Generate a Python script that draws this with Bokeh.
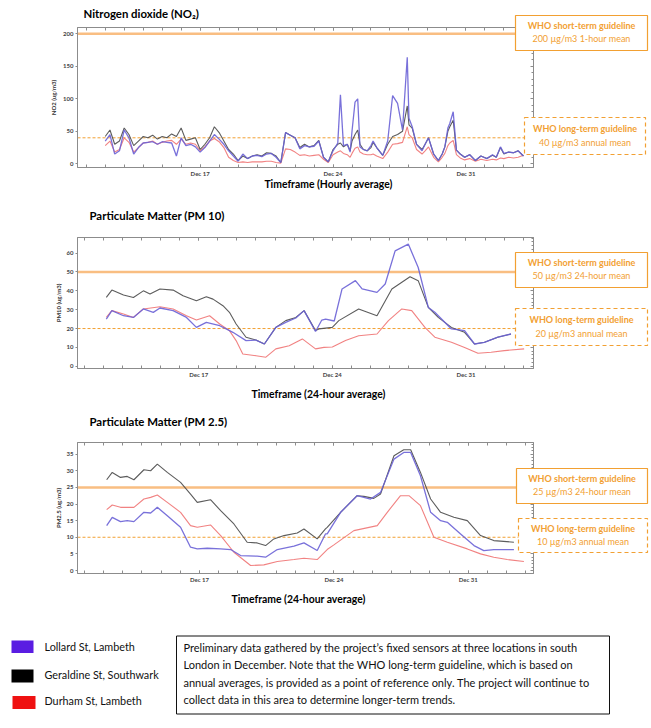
import pandas as pd
from bokeh.plotting import figure
from bokeh.models import (Range1d, FixedTicker, SingleIntervalTicker, LinearAxis, DatetimeAxis,
                          DatetimeTickFormatter, Label, Span, ColumnDataSource, GridBox)
from bokeh.layouts import column
from bokeh.embed import file_html
from bokeh.resources import INLINE

# ---------------- DATA (x = day of December 2019, fractional; 32 = Jan 1) ----------------
sites = ["Lollard St, Lambeth", "Geraldine St, Southwark", "Durham St, Lambeth"]

no2_day = [12.00, 12.25, 12.50, 12.75, 13.00, 13.25, 13.50, 13.75, 14.00, 14.25, 14.50, 14.75,
           15.00, 15.25, 15.50, 15.75, 16.00, 16.25, 16.50, 16.75, 17.00, 17.25, 17.50, 17.75,
           18.00, 18.25, 18.50, 18.75, 19.00, 19.25, 19.50, 19.75, 20.00, 20.25, 20.50, 20.75,
           21.00, 21.25, 21.50, 21.75, 22.00, 22.25, 22.50, 22.75, 23.00, 23.25, 23.50, 23.75,
           24.00, 24.25, 24.39, 24.55, 24.75, 24.90, 25.00, 25.16, 25.30, 25.42, 25.60, 25.80,
           26.00, 26.11, 26.30, 26.62, 26.88, 27.14, 27.40, 27.66, 27.91, 28.00, 28.17, 28.40,
           28.69, 28.85, 29.03, 29.30, 29.55, 29.75, 29.89, 30.05, 30.15, 30.33, 30.50, 30.70,
           30.93, 31.20, 31.50, 31.79, 32.10, 32.40, 32.60, 32.82, 33.00, 33.25, 33.51, 33.75, 34.03]
no2_geraldine = [42, 52, 30, 35, 55, 45, 28, 35, 42, 40, 44, 38,
                 42, 40, 46, 42, 55, 36, 38, 40, 22, 30, 40, 57,
                 48, 35, 22, 15, 5, 12, 8, 12, 14, 12, 17, 16,
                 12, 2, 48, 44, 40, 25, 30, 26, 28, 36, 10, 3,
                 22, 30, 32, 26, 30, 20, 35, 45, 52, 30, 22, 20,
                 25, 33, 25, 13, 30, 42, 45, 50, 89, 60, 55, 30,
                 22, 30, 40, 15, 5, 15, 26, 50, 57, 67, 21, 15,
                 10, 14, 5, 12, 8, 13, 10, 25, 15, 18, 17, 20, 12]
no2_lollard = [35, 45, 15, 20, 52, 40, 15, 25, 32, 33, 34, 30,
               34, 33, 32, 12, 40, 28, 30, 26, 18, 25, 35, 45,
               38, 30, 20, 12, 4, 15, 8, 12, 13, 11, 15, 16,
               10, 2, 48, 44, 40, 23, 28, 26, 27, 35, 10, 3,
               20, 32, 106, 28, 30, 18, 50, 95, 100, 26, 22, 20,
               28, 35, 25, 13, 35, 105, 93, 52, 164, 70, 57, 30,
               20, 30, 40, 15, 5, 15, 26, 55, 62, 80, 21, 15,
               10, 14, 5, 12, 8, 14, 10, 26, 16, 18, 17, 20, 12]
no2_durham = [28, 35, 18, 22, 40, 33, 18, 25, 32, 33, 35, 30,
              33, 35, 36, 30, 38, 30, 32, 30, 20, 26, 35, 39,
              34, 25, 10, 5, 2, 3, 2, 3, 3, 3, 4, 4,
              2, 1, 23, 22, 18, 13, 14, 12, 13, 14, 7, 2,
              14, 18, 20, 16, 14, 10, 16, 24, 26, 18, 15, 14,
              14, 15, 12, 8, 18, 30, 31, 33, 57, 45, 40, 22,
              15, 20, 26, 10, 3, 10, 16, 28, 32, 36, 14, 9,
              6, 8, 4, 7, 5, 7, 6, 9, 8, 10, 9, 10, 13]

pm10_geraldine_day = [12.16, 12.45, 13.06, 13.58, 14.10, 14.45, 14.97, 15.66, 16.18, 16.88, 17.40,
                      17.75, 18.27, 18.61, 18.96, 19.48, 20.00, 20.44, 21.04, 21.56, 22.09, 22.52,
                      23.12, 23.30, 24.00, 24.34, 25.38, 26.34, 27.12, 28.07, 28.50, 29.03, 29.55,
                      30.24, 30.93, 31.45, 31.97, 32.67, 33.36]
pm10_geraldine = [36.5, 40.4, 37.8, 36.5, 40.0, 38.3, 41.0, 40.4, 37.4, 34.8, 36.9,
                  35.6, 32.1, 28.6, 22.4, 15.4, 13.9, 11.8, 20.6, 24.2, 25.9, 29.5,
                  18.9, 19.8, 20.6, 24.2, 30.4, 26.8, 41.0, 47.5, 45.4, 31.2, 25.9,
                  20.6, 18.0, 11.8, 12.7, 15.4, 17.1]
pm10_lollard_day = [12.16, 12.45, 13.06, 13.58, 14.10, 14.62, 14.97, 15.66, 16.36, 16.88, 17.40,
                    18.10, 18.44, 18.79, 19.48, 20.00, 20.44, 21.04, 21.56, 22.09, 22.52, 23.12,
                    23.45, 23.65, 24.10, 24.51, 25.21, 25.56, 26.34, 26.77, 27.29, 27.98, 28.50,
                    29.03, 29.37, 30.24, 30.93, 31.45, 31.97, 32.67, 33.36]
pm10_lollard = [25.0, 29.5, 26.8, 25.9, 30.4, 28.6, 30.9, 29.5, 25.9, 20.6, 23.3,
                21.5, 19.8, 18.0, 13.6, 13.9, 11.8, 20.6, 23.3, 25.6, 29.5, 18.4,
                24.5, 25.0, 24.0, 41.0, 45.4, 41.0, 39.2, 43.6, 61.2, 64.8, 52.4,
                31.2, 28.6, 19.8, 18.9, 11.8, 12.7, 15.4, 17.1]
pm10_durham_day = [12.16, 12.45, 13.06, 13.58, 14.10, 14.97, 15.66, 16.36, 16.88, 17.57, 18.10,
                   18.61, 18.96, 19.31, 20.00, 20.52, 21.04, 21.74, 22.43, 23.12, 23.56, 24.00,
                   24.69, 25.38, 26.34, 26.94, 27.64, 28.16, 28.85, 29.37, 30.24, 30.93, 31.63,
                   32.32, 33.01, 34.05]
pm10_durham = [26.0, 29.5, 27.7, 25.9, 30.4, 31.6, 30.4, 26.8, 24.5, 26.8, 22.4,
               18.9, 13.6, 6.5, 5.6, 4.8, 9.2, 10.9, 14.5, 9.2, 10.0, 10.2,
               13.6, 16.2, 17.1, 24.2, 30.4, 29.5, 20.6, 15.4, 12.7, 10.0, 6.9,
               7.4, 8.3, 9.2]

pm25_geraldine_day = [12.16, 12.45, 12.88, 13.23, 13.58, 14.10, 14.45, 14.80, 15.32, 16.01, 16.53,
                      16.88, 17.57, 18.10, 18.79, 19.48, 20.00, 20.44, 20.87, 21.40, 22.09, 22.44,
                      23.13, 23.56, 23.65, 24.35, 25.21, 25.56, 26.08, 26.43, 27.13, 27.64, 28.00,
                      28.51, 29.04, 29.56, 30.25, 30.95, 31.64, 32.33, 33.38]
pm25_geraldine = [27.3, 29.5, 28.0, 28.3, 27.3, 30.3, 30.0, 32.0, 29.5, 26.5, 23.0,
                  20.5, 21.3, 18.0, 14.0, 8.5, 8.3, 7.5, 9.5, 10.5, 11.3, 12.5,
                  9.5, 12.5, 13.0, 17.5, 22.5, 22.3, 21.7, 23.0, 34.5, 36.3, 36.3,
                  29.5, 21.5, 17.5, 16.0, 15.0, 10.5, 9.0, 8.5]
pm25_lollard_day = [12.16, 12.45, 12.88, 13.23, 13.58, 14.10, 14.45, 14.80, 15.32, 16.01, 16.53,
                    16.88, 17.40, 18.10, 18.62, 19.14, 20.00, 20.44, 21.05, 21.92, 22.44, 23.13,
                    23.56, 23.65, 24.35, 25.21, 25.91, 26.43, 27.13, 27.64, 28.00, 28.51, 29.04,
                    29.56, 29.91, 30.60, 31.30, 31.81, 32.33, 33.38]
pm25_lollard = [13.5, 16.0, 14.7, 15.0, 14.7, 17.5, 17.3, 19.0, 16.5, 13.0, 7.0,
                6.5, 6.7, 6.5, 6.3, 4.5, 4.3, 4.0, 6.3, 7.3, 8.3, 6.0,
                11.0, 11.0, 17.5, 22.5, 21.5, 23.5, 33.5, 35.5, 35.5, 28.5, 17.5,
                15.0, 14.5, 11.0, 7.5, 6.0, 6.3, 6.3]
pm25_durham_day = [12.16, 12.45, 12.88, 13.40, 13.58, 14.10, 14.45, 14.80, 15.32, 16.01, 16.53,
                   16.88, 17.57, 18.10, 18.79, 19.66, 20.35, 21.05, 21.92, 22.44, 23.13, 23.65,
                   24.00, 25.04, 26.26, 26.78, 27.47, 27.91, 28.51, 29.21, 29.91, 30.95, 31.64,
                   32.33, 33.03, 33.90]
pm25_durham = [18.3, 19.7, 19.0, 19.0, 19.0, 21.5, 22.0, 22.7, 20.5, 17.5, 13.5,
               13.0, 13.7, 10.5, 5.5, 1.5, 1.7, 2.7, 3.3, 3.7, 3.3, 6.3,
               7.7, 12.0, 13.5, 17.5, 22.5, 22.5, 19.5, 10.0, 8.5, 6.5, 5.0,
               4.0, 3.3, 2.7]

guideline_short = [200, 50, 25]
guideline_long = [40, 20, 10]
short_text = ["200 \u00b5g/m3 1-hour mean", "50 \u00b5g/m3 24-hour mean", "25 \u00b5g/m3 24-hour mean"]
long_text = ["40 \u00b5g/m3 annual mean", "20 \u00b5g/m3 annual mean", "10 \u00b5g/m3 annual mean"]
titles = ["Nitrogen dioxide (NO\u2082)", "Particulate Matter (PM 10)", "Particulate Matter (PM 2.5)"]
ylabels = ["NO2 (ug/m3)", "PM10 (ug/m3)", "PM2.5 (ug/m3)"]
xlabels = ["Timeframe (Hourly average)", "Timeframe (24-hour average)", "Timeframe (24-hour average)"]
labelled_days = [17, 24, 31]
note_lines = [
    "Preliminary data gathered by the project\u2019s fixed sensors at three locations in south",
    "London in December. Note that the WHO long-term guideline, which is based on",
    "annual averages, is provided as a point of reference only.  The project will continue to",
    "collect data in this area to determine longer-term trends.",
]

# ---------------- STYLE ----------------
FONT = "Lato"
ORANGE = "#f2a032"
ORANGE_LIGHT = "#f9be82"
LINE_COLORS = {"Lollard": "#6a62d6", "Geraldine": "#4a4a4a", "Durham": "#f07474"}
LINE_WIDTHS = {"Lollard": 1.3, "Geraldine": 1.1, "Durham": 1.1}
SWATCH_COLORS = ["#5a1de2", "#000000", "#ef1111"]
GRAY = "#8c8c8c"
W = 651
H = 728

BASE = pd.Timestamp("2019-12-01")


def ms(day):
    return (BASE + pd.Timedelta(days=day - 1)).value / 1e6


def make_chart(i, series, height, page_top, L, R, T, B, x0, x1, y0, y1, ystep, ylab_standoff):
    p = figure(width=W, height=height, x_axis_type="datetime",
               x_range=Range1d(ms(x0), ms(x1)), y_range=Range1d(y0, y1),
               output_backend="svg", toolbar_location=None,
               min_border_left=L, min_border_top=T - page_top,
               min_border_bottom=page_top + height - B,
               min_border_right=W - R)
    p.grid.visible = False
    p.outline_line_color = GRAY
    p.outline_line_width = 1

    major = [ms(d) for d in labelled_days]
    minor = [ms(d) for d in range(11, 35)]
    fmt = DatetimeTickFormatter(days="%b %d", months="%b %d", hours="%b %d", years="%b %d")
    fmt.context = None
    xa = p.xaxis[0]
    xa.ticker = FixedTicker(ticks=major, minor_ticks=minor)
    xa.formatter = fmt
    ya = p.yaxis[0]
    ya.ticker = SingleIntervalTicker(interval=ystep, num_minor_ticks=5)
    ya.axis_label = ylabels[i]
    top = DatetimeAxis(ticker=FixedTicker(ticks=major, minor_ticks=minor))
    right = LinearAxis(ticker=SingleIntervalTicker(interval=ystep, num_minor_ticks=5))
    p.add_layout(top, "above")
    p.add_layout(right, "right")
    for ax in [xa, top]:
        ax.major_tick_in = 3
        ax.major_tick_out = 0
        ax.minor_tick_in = 3
        ax.minor_tick_out = 0
    ya.major_tick_in, ya.major_tick_out, ya.minor_tick_in, ya.minor_tick_out = 0, 2, 0, 0
    right.major_tick_in, right.major_tick_out, right.minor_tick_in, right.minor_tick_out = 3, 0, 2, 0
    for ax in [xa, ya, top, right]:
        ax.axis_line_color = GRAY
        ax.major_tick_line_color = GRAY
        ax.minor_tick_line_color = GRAY
        ax.major_label_text_font = FONT
        ax.major_label_text_font_size = "6px"
        ax.major_label_text_font_style = "bold"
        ax.major_label_text_color = "#444444"
        ax.major_label_standoff = 2
    top.major_label_text_color = None
    right.major_label_text_color = None
    ya.axis_label_text_font = FONT
    ya.axis_label_text_font_size = "6px"
    ya.axis_label_text_font_style = "bold"
    ya.axis_label_text_color = "#333333"
    ya.axis_label_standoff = ylab_standoff

    # guideline lines
    p.add_layout(Span(location=guideline_short[i], dimension="width",
                      line_color=ORANGE_LIGHT, line_width=2.5, level="underlay"))
    p.add_layout(Span(location=guideline_long[i], dimension="width",
                      line_color=ORANGE, line_width=1, line_dash="3 2", level="underlay"))

    for name in ["Durham", "Geraldine", "Lollard"]:
        days, vals = series[name]
        src = ColumnDataSource(dict(x=[ms(d) for d in days], y=vals))
        p.line("x", "y", source=src, line_color=LINE_COLORS[name],
               line_width=LINE_WIDTHS[name], line_alpha=0.9)
    return p


p1 = make_chart(0, {"Lollard": (no2_day, no2_lollard), "Geraldine": (no2_day, no2_geraldine),
                    "Durham": (no2_day, no2_durham)},
                196, 0, 72, 537, 27, 167, 10.54, 34.56, -5.7, 209.7, 50, 3)
p2 = make_chart(1, {"Lollard": (pm10_lollard_day, pm10_lollard),
                    "Geraldine": (pm10_geraldine_day, pm10_geraldine),
                    "Durham": (pm10_durham_day, pm10_durham)},
                208, 196, 77, 536, 237, 368, 10.65, 34.54, -1.2, 68.3, 10, 2)
p3 = make_chart(2, {"Lollard": (pm25_lollard_day, pm25_lollard),
                    "Geraldine": (pm25_geraldine_day, pm25_geraldine),
                    "Durham": (pm25_durham_day, pm25_durham)},
                208, 404, 77, 533, 442, 573, 10.64, 34.40, -0.9, 38.5, 5, 2)
charts = column(p1, p2, p3, spacing=0)

# ---------------- overlay: titles, guideline boxes, axis titles, legend, note ----------------
ov = figure(width=W, height=H, x_range=Range1d(0, W), y_range=Range1d(H, 0),
            output_backend="svg", toolbar_location=None, min_border=0,
            x_axis_location=None, y_axis_location=None)
ov.grid.visible = False
ov.outline_line_color = None
ov.background_fill_color = None
ov.border_fill_color = None


def txt(x, y, text, size, bold=False, color="#111111", align="left"):
    ov.add_layout(Label(x=x, y=y, text=text, text_align=align, text_baseline="middle",
                        text_font=FONT, text_font_size=size,
                        text_font_style="bold" if bold else "normal", text_color=color))


title_pos = [(83, 13), (89, 215), (89, 421)]
xlab_pos = [(328, 183), (318, 393), (298, 598)]
short_box = [(515, 647, 15, 50), (515, 647, 252, 287), (516, 647, 468, 503)]
long_box = [(524, 645, 117, 154), (515, 647, 308, 345), (518, 647, 518, 552)]

for i in range(3):
    txt(title_pos[i][0], title_pos[i][1], titles[i], "11.4px", bold=True, color="#000000")
    txt(xlab_pos[i][0], xlab_pos[i][1], xlabels[i], "10.4px", bold=True, color="#000000",
        align="center")
    for box, dash, head, sub in [(short_box[i], "solid", "WHO short-term guideline", short_text[i]),
                                 (long_box[i], "4 3", "WHO long-term guideline", long_text[i])]:
        bx0, bx1, by0, by1 = box
        ov.quad(left=[bx0], right=[bx1], top=[by0], bottom=[by1], fill_color="white",
                line_color=ORANGE, line_width=1.2, line_dash=dash)
        cx = (bx0 + bx1) / 2
        h = by1 - by0
        txt(cx, by0 + h * 0.29, head, "9px", bold=True, color=ORANGE, align="center")
        txt(cx, by0 + h * 0.67, sub, "9px", color=ORANGE, align="center")

# legend swatches + labels
sw_left = [11, 11, 12]
sw_right = [33, 33, 35]
sw_top = [640, 669, 695.5]
sw_bottom = [652.5, 682, 708.5]
ov.quad(left=sw_left, right=sw_right, top=sw_top, bottom=sw_bottom,
        fill_color=SWATCH_COLORS, line_color=None)
for name, y in zip(sites, [646, 673.5, 699.5]):
    txt(44, y, name, "10.8px")

# note box
ov.quad(left=[176], right=[609], top=[635.5], bottom=[713.5], fill_color=None,
        line_color="#111111", line_width=1)
for k, line in enumerate(note_lines):
    txt(183, 647 + k * 17.3, line, "11px")

page = GridBox(children=[(charts, 0, 0), (ov, 0, 0)])
open("out.html", "w").write(file_html(page, INLINE))
